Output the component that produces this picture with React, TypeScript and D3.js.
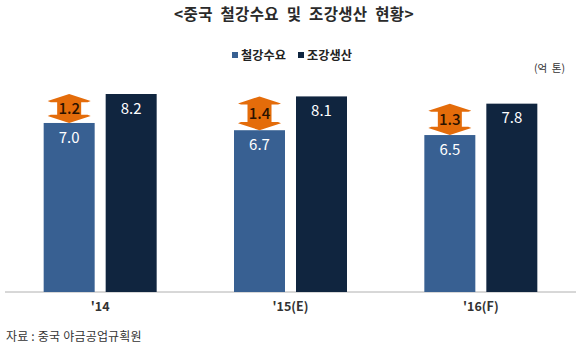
import React from "react";
import * as d3 from "d3";

const categories = ["'14", "'15(E)", "'16(F)"];
const demand = [7.0, 6.7, 6.5];
const production = [8.2, 8.1, 7.8];
const gaps = ["1.2", "1.4", "1.3"];
const seriesNames = ["철강수요", "조강생산"];
const title = "<중국  철강수요  및  조강생산  현황>";
const unit = "(억  톤)";
const source = "자료 : 중국 야금공업규획원";

const W = 580, H = 355, base = 292;
const colors = ["#386092", "#10253f"];
const font = "'Noto Sans CJK KR','Noto Sans',sans-serif";

const x = d3.scaleBand<string>().domain(categories).range([5, 576]).paddingInner(0).paddingOuter(0);
const y = d3.scaleLinear().domain([0, 8.2]).range([base, 94]);
const barW = 51, gap = 11;

function arrowPath(cx: number, top: number, bottom: number) {
  const hw = 21.5, bw = 12, head = 7, wing = 1.2;
  return d3.line()([
    [cx, top], [cx + hw, top + head], [cx + hw - 3, top + head + wing], [cx + bw, top + head + wing],
    [cx + bw, bottom - head - wing], [cx + hw - 3, bottom - head - wing], [cx + hw, bottom - head],
    [cx, bottom], [cx - hw, bottom - head], [cx - hw + 3, bottom - head - wing], [cx - bw, bottom - head - wing],
    [cx - bw, top + head + wing], [cx - hw + 3, top + head + wing], [cx - hw, top + head],
  ])! + "Z";
}

export default function App() {
  return (
    <svg width={W} height={H} viewBox={`0 0 ${W} ${H}`} style={{ position: "absolute", left: 0, top: 0, background: "#fff" }} fontFamily={font}>
      <text x={294} y={20} textAnchor="middle" fontSize={15.5} fontWeight={700} fill="#2a2a2a" xmlSpace="preserve" letterSpacing={0.35}>{title}</text>
      <rect x={232} y={52} width={6} height={6} fill={colors[0]} />
      <text x={241} y={60} fontSize={12.2} fontWeight={700} fill="#222">{seriesNames[0]}</text>
      <rect x={298} y={52} width={6} height={6} fill={colors[1]} />
      <text x={307} y={60} fontSize={12.2} fontWeight={700} fill="#222">{seriesNames[1]}</text>
      <text x={565} y={72} textAnchor="end" fontSize={10.5} fill="#333" xmlSpace="preserve">{unit}</text>
      <line x1={5} x2={576} y1={base} y2={base} stroke="#b0b0b0" strokeWidth={1} />
      {categories.map((c, i) => {
        const cx = x(c)! + x.bandwidth() / 2;
        const lx = cx - gap / 2 - barW, dx = cx + gap / 2;
        const lc = lx + barW / 2, dc = dx + barW / 2;
        return (
          <g key={c}>
            <rect x={lx} y={y(demand[i])} width={barW} height={base - y(demand[i])} fill={colors[0]} />
            <rect x={dx} y={y(production[i])} width={barW} height={base - y(production[i])} fill={colors[1]} />
            <text x={lc} y={y(demand[i]) + 20} textAnchor="middle" fontSize={15} fill="#fff">{demand[i].toFixed(1)}</text>
            <text x={dc} y={y(production[i]) + 19.5} textAnchor="middle" fontSize={15} fill="#fff">{production[i].toFixed(1)}</text>
            <path d={arrowPath(lc, y(production[i]), y(demand[i]))} fill="#e46c0a" />
            <text x={lc} y={(y(production[i]) + y(demand[i])) / 2 + 5.5} textAnchor="middle" fontSize={15} fontWeight={500} fill="#2a1200">{gaps[i]}</text>
            <text x={cx} y={311} textAnchor="middle" fontSize={12.5} fontWeight={700} fill="#333">{c}</text>
          </g>
        );
      })}
      <text x={6} y={341} fontSize={12} fill="#333" letterSpacing={0.2}>{source}</text>
    </svg>
  );
}
